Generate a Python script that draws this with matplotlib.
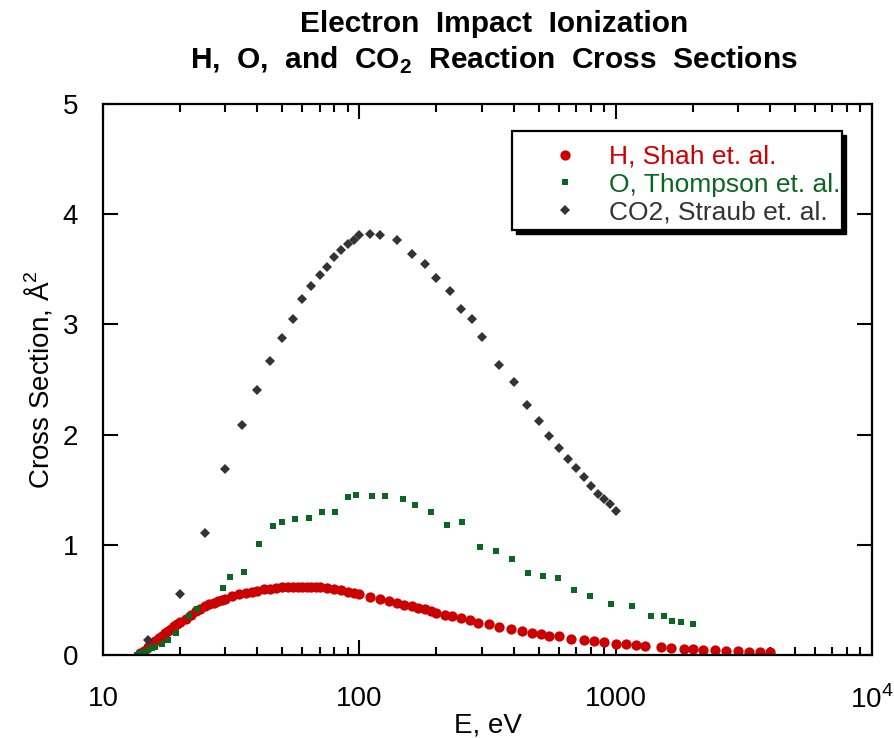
import matplotlib
matplotlib.use("Agg")
import matplotlib.pyplot as plt
from matplotlib.patches import Rectangle
from matplotlib.ticker import FixedLocator, FixedFormatter, LogLocator, NullFormatter

plt.rcParams["font.family"] = ["Liberation Sans", "DejaVu Sans"]
plt.rcParams["mathtext.fontset"] = "custom"
plt.rcParams["mathtext.rm"] = "Liberation Sans"
plt.rcParams["mathtext.bf"] = "Liberation Sans:bold"

# ---------------------------------------------------------------------------
# Data
# ---------------------------------------------------------------------------
h_energy = [14.0, 14.5, 15.0, 15.5, 16.0, 16.5, 17.0, 17.5, 18.0, 18.5, 19.0, 19.5,
            20.0, 21.0, 22.0, 23.0, 24.0, 25.0, 26.0, 27.0, 28.0, 29.0, 30.0, 32.0,
            34.0, 36.0, 38.0, 40.0, 42.5, 45.0, 47.5, 50.0, 52.5, 55.0, 57.5, 60.0,
            62.5, 65.0, 67.5, 70.0, 75.0, 80.0, 85.0, 90.0, 95.0, 100, 110, 120, 130,
            140, 150, 160, 170, 180, 190, 200, 215, 230, 250, 270, 290, 320, 350, 390,
            430, 470, 510, 550, 600, 670, 750, 820, 900, 1000, 1100, 1200, 1300, 1500,
            1650, 1850, 2000, 2200, 2450, 2700, 3000, 3300, 3650, 4000]
h_sigma = [0.02, 0.04, 0.07, 0.10, 0.13, 0.15, 0.17, 0.20, 0.22, 0.24, 0.26, 0.28,
           0.30, 0.33, 0.36, 0.40, 0.42, 0.44, 0.46, 0.475, 0.49, 0.50, 0.51, 0.535,
           0.55, 0.565, 0.575, 0.585, 0.595, 0.60, 0.61, 0.615, 0.62, 0.62, 0.62, 0.62,
           0.618, 0.618, 0.617, 0.615, 0.61, 0.60, 0.59, 0.575, 0.56, 0.55, 0.525, 0.505,
           0.49, 0.47, 0.452, 0.442, 0.43, 0.415, 0.40, 0.385, 0.366, 0.351, 0.333,
           0.318, 0.29, 0.279, 0.252, 0.239, 0.221, 0.203, 0.188, 0.172, 0.17, 0.148,
           0.136, 0.124, 0.115, 0.10, 0.097, 0.091, 0.084, 0.073, 0.061, 0.054, 0.054,
           0.048, 0.043, 0.036, 0.036, 0.03, 0.03, 0.024]

o_energy = [13.6, 14.0, 14.5, 15.0, 15.5, 16.0, 17.0, 18.0, 19.3, 21.7, 23.3, 29.4,
            31.3, 35.6, 40.7, 46.0, 50.0, 56.0, 63.5, 71.5, 80.6, 90.0, 97.0, 112,
            126, 148, 165, 191, 220, 252, 296, 342, 394, 455, 522, 598, 689, 797,
            962, 1156, 1378, 1545, 1660, 1804, 2009]
o_sigma = [0.0, 0.015, 0.03, 0.045, 0.06, 0.075, 0.10, 0.14, 0.20, 0.35, 0.42, 0.61,
           0.705, 0.75, 1.005, 1.17, 1.21, 1.23, 1.24, 1.295, 1.30, 1.434, 1.45, 1.446,
           1.446, 1.42, 1.36, 1.295, 1.18, 1.21, 0.98, 0.944, 0.868, 0.741, 0.72, 0.70,
           0.587, 0.538, 0.46, 0.442, 0.357, 0.351, 0.309, 0.297, 0.279]

co2_energy = [15, 20, 25, 30, 35, 40, 45, 50, 55, 60, 65, 70, 75, 80, 85, 90, 95, 100,
              110, 120, 140, 160, 180, 200, 225, 250, 275, 300, 350, 400, 450, 500,
              550, 600, 650, 700, 750, 800, 850, 900, 950, 1000]
co2_sigma = [0.136, 0.553, 1.107, 1.688, 2.084, 2.407, 2.665, 2.874, 3.052, 3.23,
             3.35, 3.445, 3.524, 3.615, 3.675, 3.73, 3.77, 3.81, 3.817, 3.81, 3.77,
             3.64, 3.545, 3.42, 3.30, 3.14, 3.046, 2.886, 2.63, 2.48, 2.266, 2.12,
             1.985, 1.878, 1.778, 1.70, 1.615, 1.536, 1.458, 1.413, 1.367, 1.304]

series_labels = ["H, Shah et. al.", "O, Thompson et. al.", "CO2, Straub et. al."]
series_colors = ["#cc0000", "#0b6622", "#333333"]

x_ticks = [10, 100, 1000, 10000]
x_tick_labels = ["10", "100", "1000", "10$^4$"]
y_ticks = [0, 1, 2, 3, 4, 5]

# ---------------------------------------------------------------------------
# Figure
# ---------------------------------------------------------------------------
fig = plt.figure(figsize=(8.94, 7.38), dpi=100)
ax = fig.add_axes([0.1152, 0.1125, 0.8602, 0.7465])

h_pts, = ax.plot(h_energy, h_sigma, "o", ms=7.4, color=series_colors[0],
                 markeredgewidth=0, linestyle="none")
o_pts, = ax.plot(o_energy, o_sigma, "s", ms=4.0, color=series_colors[1],
                 markeredgewidth=0, linestyle="none")
co2_pts, = ax.plot(co2_energy, co2_sigma, "D", ms=5.2, color=series_colors[2],
                   markeredgewidth=0, linestyle="none")

ax.set_xscale("log")
ax.set_xlim(10, 10000)
ax.set_ylim(0, 5)

ax.xaxis.set_major_locator(FixedLocator(x_ticks))
ax.xaxis.set_major_formatter(FixedFormatter(x_tick_labels))
ax.xaxis.set_minor_locator(LogLocator(base=10, subs=range(2, 10)))
ax.xaxis.set_minor_formatter(NullFormatter())
ax.yaxis.set_major_locator(FixedLocator(y_ticks))

for side in ax.spines.values():
    side.set_linewidth(1.6)
ax.tick_params(which="both", direction="in", top=True, right=True, width=1.5,
               labelsize=20)
ax.tick_params(which="major", length=11)
ax.tick_params(which="minor", length=6)
ax.tick_params(axis="x", pad=22)
ax.tick_params(axis="y", pad=18)

ax.set_xlabel("E, eV", fontsize=20, labelpad=-1)
ax.set_ylabel("Cross Section, Å$^2$", fontsize=20, labelpad=6)

fig.text(0.553, 0.987,
         "Electron  Impact  Ionization\nH,  O,  and  CO$_\\mathbf{2}$  Reaction  Cross  Sections",
         ha="center", va="top", fontsize=21.5, fontweight="bold", linespacing=1.3)

# legend box with a solid drop shadow
box_x, box_y, box_w, box_h = 0.532, 0.771, 0.429, 0.180
ax.add_patch(Rectangle((box_x + 0.0055, box_y - 0.0075), box_w, box_h,
                       transform=ax.transAxes, facecolor="black", edgecolor="black",
                       zorder=4))
ax.add_patch(Rectangle((box_x, box_y), box_w, box_h, transform=ax.transAxes,
                       facecolor="white", edgecolor="black", linewidth=1.6, zorder=5))
leg = ax.legend([h_pts, o_pts, co2_pts], series_labels, loc="upper left",
                bbox_to_anchor=(0.584, 0.926), frameon=False, fontsize=19,
                handlelength=1.0, handletextpad=1.15, labelspacing=0.14,
                borderpad=0.0, borderaxespad=0.0)
leg.set_zorder(6)
for txt, col in zip(leg.get_texts(), series_colors):
    txt.set_color(col)

plt.savefig("out.png", dpi=100)
